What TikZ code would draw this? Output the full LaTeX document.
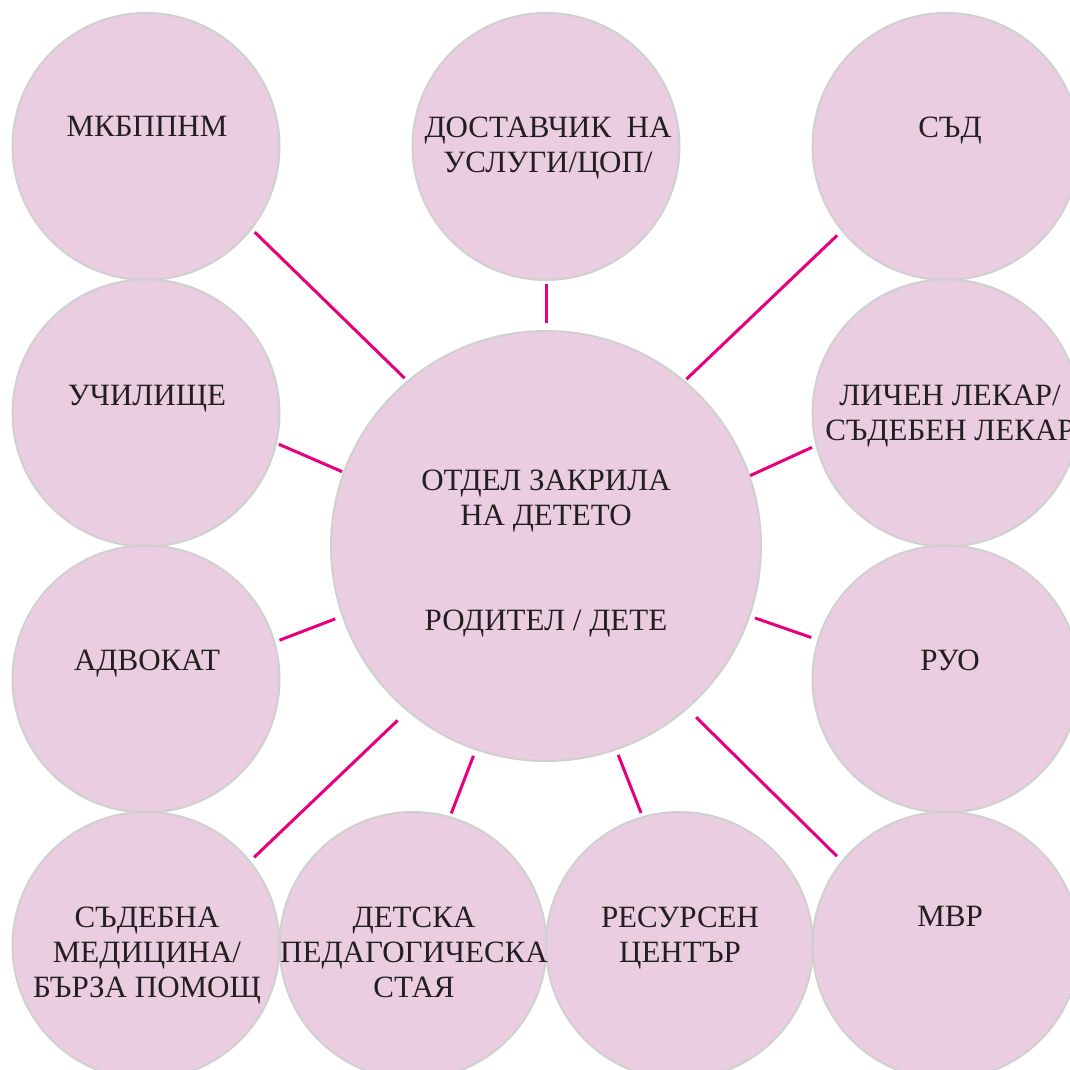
\documentclass[tikz,border=0pt]{standalone}
\usepackage{fontspec}
\setmainfont{Liberation Serif}
\definecolor{circfill}{RGB}{234,205,224}
\definecolor{circline}{RGB}{208,208,208}
\definecolor{linkcol}{RGB}{230,0,126}
\definecolor{txtcol}{RGB}{35,31,32}
\tikzset{
  bubble/.style={circle, minimum size=267pt, inner sep=0pt, outer sep=0pt, draw=circline, line width=2pt, fill=circfill},
  hub/.style={bubble, minimum size=430pt},
  lbl/.style={anchor=north, align=center, inner sep=0pt, outer sep=0pt, text=txtcol, font=\fontsize{31}{35}\selectfont},
  link/.style={draw=linkcol, line width=3pt},
}
\begin{document}
\begin{tikzpicture}[x=1pt,y=-1pt]
\useasboundingbox (0,0) rectangle (1070,1070);
\fill[white] (0,0) rectangle (1070,1070);
% circles
\node[hub] (C) at (546,546) {};
\node[bubble] (A) at (146,146.5) {};
\node[bubble] (B) at (546,146.5) {};
\node[bubble] (D) at (946,146.5) {};
\node[bubble] (E) at (146,413) {};
\node[bubble] (F) at (946,413) {};
\node[bubble] (G) at (146,679) {};
\node[bubble] (H) at (946,679) {};
\node[bubble] (I) at (146,945.5) {};
\node[bubble] (J) at (413,945.5) {};
\node[bubble] (K) at (679.5,945.5) {};
\node[bubble] (L) at (946,945.5) {};
% labels
\node[lbl] (tC) at (546,469.5) {ОТДЕЛ ЗАКРИЛА\\НА ДЕТЕТО\\[70pt]РОДИТЕЛ / ДЕТЕ};
\node[lbl] (tA) at (147,116.5) {МКБППНМ};
\node[lbl] (tB) at (548,116.5) {ДОСТАВЧИК~ НА\\УСЛУГИ/ЦОП/};
\node[lbl] (tD) at (950,116.5) {СЪД};
\node[lbl] (tE) at (147,385.5) {УЧИЛИЩЕ};
\node[lbl] (tF) at (950,385.5) {ЛИЧЕН ЛЕКАР/\\СЪДЕБЕН ЛЕКАР};
\node[lbl] (tG) at (147,649.5) {АДВОКАТ};
\node[lbl] (tH) at (950,649.5) {РУО};
\node[lbl] (tI) at (147,906.5) {СЪДЕБНА\\МЕДИЦИНА/\\БЪРЗА ПОМОЩ};
\node[lbl] (tJ) at (414,906.5) {ДЕТСКА\\ПЕДАГОГИЧЕСКА\\СТАЯ};
\node[lbl] (tK) at (680,906.5) {РЕСУРСЕН\\ЦЕНТЪР};
\node[lbl] (tL) at (950,906.5) {МВР};
% connectors
\draw[link, shorten <=5pt, shorten >=4.5pt] (A.-38.85) -- (C.130.3);
\draw[link, shorten <=4pt, shorten >=8pt] (B.-90) -- (C.90);
\draw[link, shorten <=7pt, shorten >=3pt] (D.-141.6) -- (C.50.1);
\draw[link, shorten <=3pt, shorten >=2pt] (E.-13.2) -- (C.160.7);
\draw[link, shorten <=5pt, shorten >=1pt] (F.-166.9) -- (C.19.45);
\draw[link, shorten <=5.5pt, shorten >=8pt] (G.16.6) -- (C.-161.1);
\draw[link, shorten <=7.5pt, shorten >=6pt] (H.163.6) -- (C.-19.06);
\draw[link, shorten <=6pt, shorten >=14pt] (I.39) -- (C.-130.9);
\draw[link, shorten <=4pt, shorten >=7pt] (J.74.2) -- (C.-109);
\draw[link, shorten <=4.5pt, shorten >=6pt] (K.106.8) -- (C.-71.5);
\draw[link, shorten <=7.5pt, shorten >=12.7pt] (L.141.5) -- (C.-49.45);
\end{tikzpicture}
\end{document}
